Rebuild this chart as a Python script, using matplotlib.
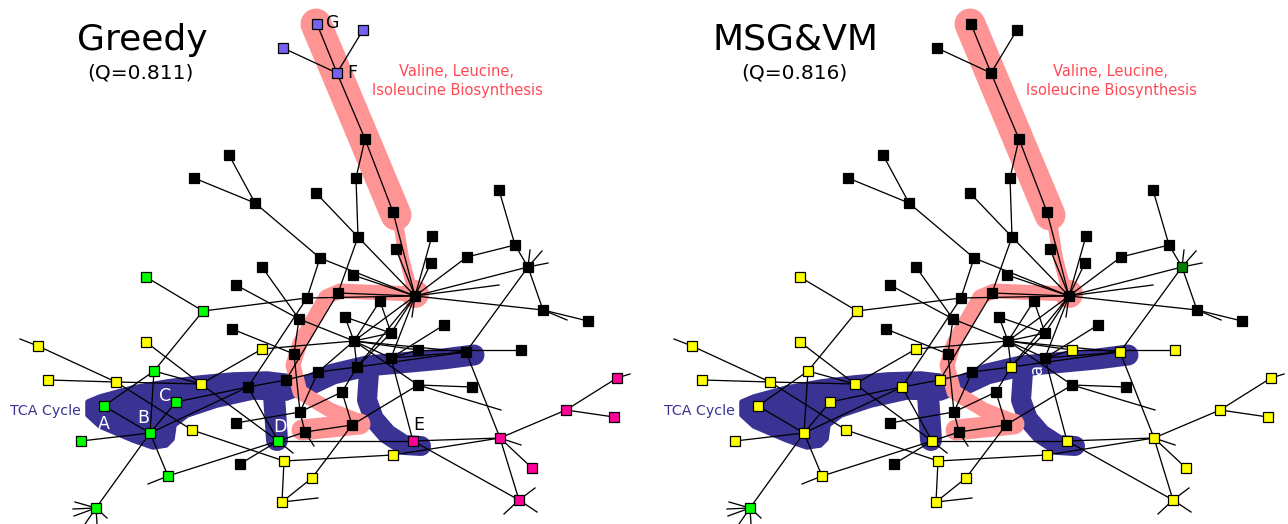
import matplotlib
matplotlib.use("Agg")
import matplotlib.pyplot as plt
from matplotlib.patches import Polygon, Circle

plt.rcParams['font.family'] = 'DejaVu Sans'

PX = 0.72  # points per pixel (dpi 100)

# node layout (pixel coords of the left panel); right panel uses same layout shifted
node_x = [317, 363, 283, 337, 365, 356, 316, 393, 358, 229,
          194, 255, 320, 432, 396, 431, 467, 415, 499, 515,
          528, 543, 588, 262, 236, 353, 307, 338, 380, 146,
          203, 299, 232, 345, 391, 444, 354, 262, 294, 418,
          391, 357, 318, 286, 248, 466, 521, 342, 418, 472,
          300, 236, 352, 305, 278, 413, 393, 312, 500, 566,
          617, 614, 532, 519, 38, 146, 48, 116, 154, 201,
          104, 176, 150, 81, 192, 240, 284, 168, 282, 96]
node_y = [24, 30, 48, 73, 139, 178, 193, 212, 237, 155,
          178, 203, 258, 236, 249, 263, 257, 296, 190, 245,
          267, 310, 321, 267, 285, 275, 298, 293, 301, 277,
          311, 319, 329, 317, 333, 325, 341, 349, 354, 350,
          358, 367, 372, 380, 387, 352, 350, 392, 385, 387,
          412, 423, 425, 432, 441, 441, 455, 478, 438, 410,
          378, 417, 468, 500, 346, 342, 380, 382, 371, 384,
          406, 402, 433, 441, 430, 464, 461, 476, 502, 508]

greedy_groups = ['p', 'p', 'p', 'p', 'k', 'k', 'k', 'k', 'k', 'k',
                 'k', 'k', 'k', 'k', 'k', 'k', 'k', 'k', 'k', 'k',
                 'k', 'k', 'k', 'k', 'k', 'k', 'k', 'k', 'k', 'g',
                 'g', 'k', 'k', 'k', 'k', 'k', 'k', 'y', 'k', 'k',
                 'k', 'k', 'k', 'k', 'k', 'k', 'k', 'k', 'k', 'k',
                 'k', 'k', 'k', 'k', 'g', 'm', 'y', 'y', 'm', 'm',
                 'm', 'm', 'm', 'm', 'y', 'y', 'y', 'y', 'g', 'y',
                 'g', 'g', 'g', 'g', 'y', 'k', 'y', 'g', 'y', 'g']
msg_groups = ['k', 'k', 'k', 'k', 'k', 'k', 'k', 'k', 'k', 'k',
              'k', 'k', 'k', 'k', 'k', 'k', 'k', 'k', 'k', 'k',
              'd', 'k', 'k', 'k', 'k', 'k', 'k', 'k', 'k', 'y',
              'y', 'k', 'k', 'k', 'k', 'k', 'k', 'y', 'k', 'y',
              'k', 'y', 'k', 'y', 'y', 'y', 'y', 'k', 'k', 'k',
              'k', 'k', 'k', 'k', 'y', 'y', 'y', 'y', 'y', 'y',
              'y', 'y', 'y', 'y', 'y', 'y', 'y', 'y', 'y', 'y',
              'y', 'y', 'y', 'y', 'y', 'k', 'y', 'y', 'y', 'g']

edges = [(0, 3), (1, 3), (2, 3), (3, 4), (4, 7), (4, 5), (5, 8), (7, 17), (6, 8),
         (8, 17), (8, 27), (9, 11), (10, 11), (11, 12), (12, 17), (25, 17), (12, 26),
         (23, 31), (24, 31), (30, 26), (26, 17), (27, 17), (14, 17), (13, 17),
         (15, 17), (16, 17), (17, 20), (17, 21), (17, 34), (17, 36), (17, 40),
         (17, 41), (19, 18), (19, 16), (19, 20), (20, 21), (21, 22), (20, 45),
         (45, 58), (29, 30), (30, 68), (68, 70), (68, 72), (68, 69), (64, 67),
         (67, 74), (66, 67), (67, 69), (65, 69), (69, 54), (69, 37), (71, 44),
         (44, 43), (43, 42), (42, 41), (41, 45), (72, 70), (72, 73), (72, 71),
         (72, 79), (72, 77), (72, 44), (77, 54), (74, 76), (76, 78), (78, 57),
         (76, 56), (56, 58), (54, 55), (55, 58), (55, 63), (58, 63), (58, 59),
         (59, 60), (59, 61), (58, 62), (55, 40), (54, 44), (54, 75), (54, 53),
         (51, 50), (50, 38), (50, 42), (50, 47), (50, 53), (53, 52), (52, 47),
         (52, 48), (52, 57), (47, 41), (48, 36), (48, 49), (36, 31), (36, 33),
         (36, 28), (36, 34), (36, 39), (36, 40), (36, 41), (36, 42), (36, 37),
         (36, 45), (40, 35), (40, 45), (39, 46), (39, 40), (33, 34), (34, 41),
         (28, 34), (31, 38), (32, 38), (26, 44), (27, 43)]

# short edges leaving towards nodes outside the view: (node, end x, end y)
stubs = [(64, 20, 339), (77, 148, 484), (79, 75, 502), (79, 73, 509), (79, 74, 516),
         (79, 85, 524), (79, 97, 524), (79, 107, 518), (78, 318, 498), (54, 293, 453),
         (53, 314, 446), (17, 499, 285), (17, 412, 317), (20, 530, 250),
         (20, 542, 251), (20, 548, 263), (21, 567, 320), (48, 501, 410),
         (58, 521, 445), (63, 535, 488), (63, 504, 514), (63, 537, 512),
         (60, 630, 374)]

# highlighted pathways
red_top = [(316, 24), (396, 215)]
red_neck = [(398, 222), (404, 258), (413, 292)]
red_path = [(415, 294), (340, 291), (326, 297), (300, 343), (293, 365),
            (300, 392), (330, 410), (358, 421)]
red_lobe = [(302, 430), (360, 424)]
blue_body = [(88, 402), (100, 397), (133, 388), (167, 382), (200, 378), (233, 375),
             (267, 374), (293, 377), (305, 386), (300, 393), (287, 398), (253, 397),
             (217, 405), (187, 415), (174, 425), (172, 439), (166, 445), (153, 447),
             (133, 440), (100, 426), (88, 415)]
blue_arm = [(274, 395), (277, 440)]
blue_band = [(303, 388), (333, 374), (367, 366), (400, 363), (443, 359), (474, 355)]
blue_right = [(369, 372), (367, 400), (374, 419), (387, 434), (404, 445), (421, 446)]

letters = ["A", "B", "C", "D", "E", "F", "G"]
letter_x = [104, 143, 165, 280, 419, 352, 333]
letter_y = [424, 418, 396, 427, 425, 73, 23]
letter_c = ["white", "white", "white", "white", "black", "black", "black"]

fills = {'k': 'black', 'p': '#7463f2', 'g': '#00ff00', 'y': '#ffff00',
         'm': '#ff0099', 'd': '#008000'}
RED = '#ff9494'
BLUE = '#3a3393'

fig = plt.figure(figsize=(12.88, 5.24), dpi=100)
ax = fig.add_axes([0, 0, 1, 1])
ax.set_xlim(0, 1288)
ax.set_ylim(524, 0)
ax.axis('off')


def stroke(pts, dx, w, color, z):
    xs = [p[0] + dx for p in pts]
    ys = [p[1] for p in pts]
    ax.plot(xs, ys, color=color, lw=w * PX, solid_capstyle='round',
            solid_joinstyle='round', zorder=z)


def panel(dx, groups, title, q):
    # blobs
    ax.add_patch(Polygon([(x + dx, y) for x, y in blue_body], closed=True,
                         fc=BLUE, ec=BLUE, lw=4, joinstyle='round', zorder=1))
    stroke(blue_arm, dx, 22, BLUE, 1)
    stroke(blue_band, dx, 21, BLUE, 1)
    stroke(blue_right, dx, 20, BLUE, 1)
    stroke(red_top, dx, 31, RED, 2)
    stroke(red_neck, dx, 10, RED, 2)
    ax.add_patch(Circle((415 + dx, 294), 14, fc=RED, ec='none', zorder=2))
    stroke(red_path, dx, 15, RED, 2)
    stroke(red_lobe, dx, 21, RED, 2)

    # edges
    for a, b in edges:
        ax.plot([node_x[a] + dx, node_x[b] + dx], [node_y[a], node_y[b]],
                color='black', lw=1.3 * PX, zorder=3)
    for a, ex, ey in stubs:
        ax.plot([node_x[a] + dx, ex + dx], [node_y[a], ey],
                color='black', lw=1.3 * PX, zorder=3)

    # nodes
    for i in range(len(node_x)):
        ax.plot(node_x[i] + dx, node_y[i], marker='s', ms=7.8,
                mfc=fills[groups[i]], mec='black', mew=0.9, zorder=4,
                linestyle='none')

    ax.text(142 + dx, 40, title, fontsize=26, ha='center', va='center', zorder=5)
    ax.text(140 + dx, 73, "(Q=%s)" % q, fontsize=14.5, ha='center', va='center', zorder=5)
    ax.text(457 + dx, 72, "Valine, Leucine,", fontsize=10.5, color='#ff4a55',
            ha='center', va='center', zorder=5)
    ax.text(457 + dx, 90, "Isoleucine Biosynthesis", fontsize=10.5, color='#ff4a55',
            ha='center', va='center', zorder=5)
    ax.text(45 + dx, 411, "TCA Cycle", fontsize=10.3, color=BLUE,
            ha='center', va='center', zorder=5)


panel(0, greedy_groups, "Greedy", "0.811")
panel(654, msg_groups, "MSG&VM", "0.816")

for s, x, y, c in zip(letters, letter_x, letter_y, letter_c):
    ax.text(x, y, s, fontsize=12.5, color=c, ha='center', va='center', zorder=5)
ax.text(1037, 369, "a", fontsize=12, color='white', rotation=90,
        ha='center', va='center', zorder=5)

fig.savefig("out.png", dpi=100)
